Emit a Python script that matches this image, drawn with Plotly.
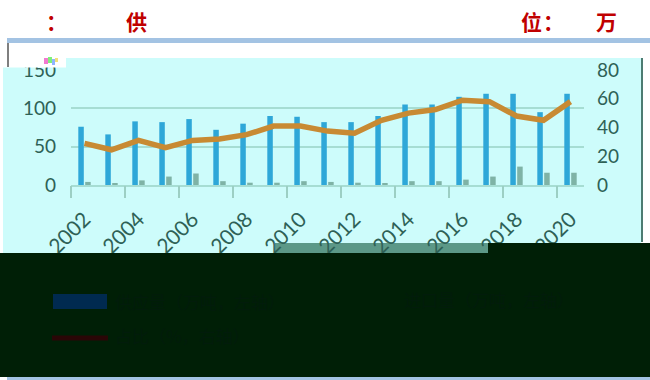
import plotly.graph_objects as go

# ---- data -------------------------------------------------------------
years = list(range(2002, 2021))
supply = [76, 66, 83, 82, 86, 72, 80, 90, 89, 82, 82, 90, 105, 105, 115, 119, 119, 95, 119]
imports = [4, 2, 6, 11, 15, 5, 3, 3, 5, 4, 3, 1.5, 5, 5, 7, 11, 24, 16, 16]
ratio = [29, 24.5, 31, 26, 31, 32, 35, 41, 41, 37.5, 36, 45, 50, 52.5, 59, 58, 48, 45, 58]

left_ticks = [0, 50, 100, 150]
right_ticks = [0, 20, 40, 60, 80]
year_labels = years[::2]
legend_names = ["供应量（万吨，左轴）", "进口量（万吨，左轴）", "占比（%，右轴）"]
header_left = ["：", "供"]
header_right = ["位", "：", "万"]

W, H = 650, 380
FONT = "Lato"
TICK_COLOR = "#2e6156"
GRID = "#a6ddd3"


def px(x):
    return x / W


def py(y):
    return 1 - y / H


fig = go.Figure()

fig.add_trace(go.Bar(x=years, y=supply, name=legend_names[0],
                     marker=dict(color="#2ea7d8", line=dict(width=0)),
                     offsetgroup="a", xaxis="x", yaxis="y"))
fig.add_trace(go.Bar(x=years, y=imports, name=legend_names[1],
                     marker=dict(color="#7fb3a6", line=dict(width=0)),
                     offsetgroup="b", xaxis="x", yaxis="y"))
fig.add_trace(go.Scatter(x=years, y=ratio, name=legend_names[2], mode="lines",
                         line=dict(color="#c88a33", width=5.5),
                         xaxis="x2", yaxis="y2"))

xdom = [px(71), px(584)]
ydom = [py(185), py(70)]
xrange = [years[0] - 0.5, years[-1] + 0.5]
# tick marks sit on the boundaries between every second pair of years
boundaries = [y - 0.5 for y in years[::2]]

shapes = []


def rect(x0, y0, x1, y1, color, layer="above"):
    shapes.append(dict(type="rect", xref="paper", yref="paper",
                       x0=px(x0), x1=px(x1), y0=py(y1), y1=py(y0),
                       fillcolor=color, line=dict(width=0), layer=layer))


def vline(x, y0, y1, color, width):
    shapes.append(dict(type="line", xref="paper", yref="paper",
                       x0=px(x), x1=px(x), y0=py(y0), y1=py(y1),
                       line=dict(color=color, width=width), layer="above"))


# panel backgrounds
rect(3, 58, 641, 253, "#cdfcfb", layer="below")
rect(275, 243, 488, 253, "#5c9887", layer="below")
# header strip and frame
rect(7, 38, 650, 43, "#a3c3e3")
rect(0, 43, 66, 67.5, "#ffffff")
vline(8, 43, 67, "#7f7f7f", 2)
rect(44, 58, 48, 64, "#f27ad0")
rect(48, 57, 52, 63, "#7ef07a")
rect(52, 59, 55, 65, "#8fb4ff")
rect(55, 58, 58, 62, "#f2e07a")
vline(642, 58, 242, "#4d7c72", 2)
# lower band
rect(0, 253, 650, 377, "#001f06")
rect(488, 243, 650, 253, "#001f06")
rect(7, 377, 650, 380, "#a3c3e3")
# legend keys
rect(53, 294, 107, 309, "#002a50")
shapes.append(dict(type="line", xref="paper", yref="paper",
                   x0=px(52), x1=px(108), y0=py(338), y1=py(338),
                   line=dict(color="#2a0606", width=5), layer="above"))

annotations = []
hfont = dict(family="Noto Sans CJK SC", size=21, color="#c00000", weight="bold")
for txt, x in zip(header_left + header_right, [56, 136, 531, 553, 606]):
    annotations.append(dict(text=txt, x=px(x), y=py(21), xref="paper", yref="paper",
                            showarrow=False, xanchor="center", yanchor="middle",
                            font=hfont))
for txt, x, y in [(legend_names[0], 113, 301), (legend_names[1], 402, 299),
                  (legend_names[2], 113, 335)]:
    annotations.append(dict(text=txt, x=px(x), y=py(y), xref="paper", yref="paper",
                            showarrow=False, xanchor="left", yanchor="middle",
                            font=dict(family="Noto Sans CJK SC", size=17, color="#021c0b")))

tickfont = dict(family=FONT, size=19, color=TICK_COLOR)

fig.update_layout(
    width=W, height=H,
    margin=dict(l=0, r=0, t=0, b=0, autoexpand=False),
    paper_bgcolor="#ffffff",
    plot_bgcolor="rgba(0,0,0,0)",
    showlegend=False,
    barmode="group", bargap=0.49, bargroupgap=0.2,
    xaxis=dict(domain=xdom, range=xrange, tickvals=year_labels, tickangle=-45,
               ticks="", showgrid=False, zeroline=False, automargin=False,
               showline=True, linecolor=GRID, linewidth=1.5,
               tickfont=dict(family=FONT, size=21, color=TICK_COLOR),
               ticklabelstandoff=12, anchor="y"),
    xaxis2=dict(domain=xdom, range=xrange, overlaying="x", anchor="y2",
                tickvals=boundaries, ticks="outside", ticklen=12, tickwidth=1.5,
                tickcolor="#9ccfc4", showticklabels=False, showgrid=False,
                zeroline=False, showline=False, automargin=False),
    yaxis=dict(domain=ydom, range=[0, 150], tickvals=left_ticks, automargin=False,
               showgrid=True, gridcolor=GRID, gridwidth=1.5, zeroline=False,
               showline=False, tickfont=tickfont, ticklabelstandoff=14, anchor="x"),
    yaxis2=dict(domain=ydom, range=[0, 80], tickvals=right_ticks, overlaying="y",
                side="right", showgrid=False, zeroline=False, showline=False,
                automargin=False,
                tickfont=tickfont, ticklabelstandoff=12, anchor="x2"),
    shapes=shapes,
    annotations=annotations,
)

fig.write_html("out.html")
